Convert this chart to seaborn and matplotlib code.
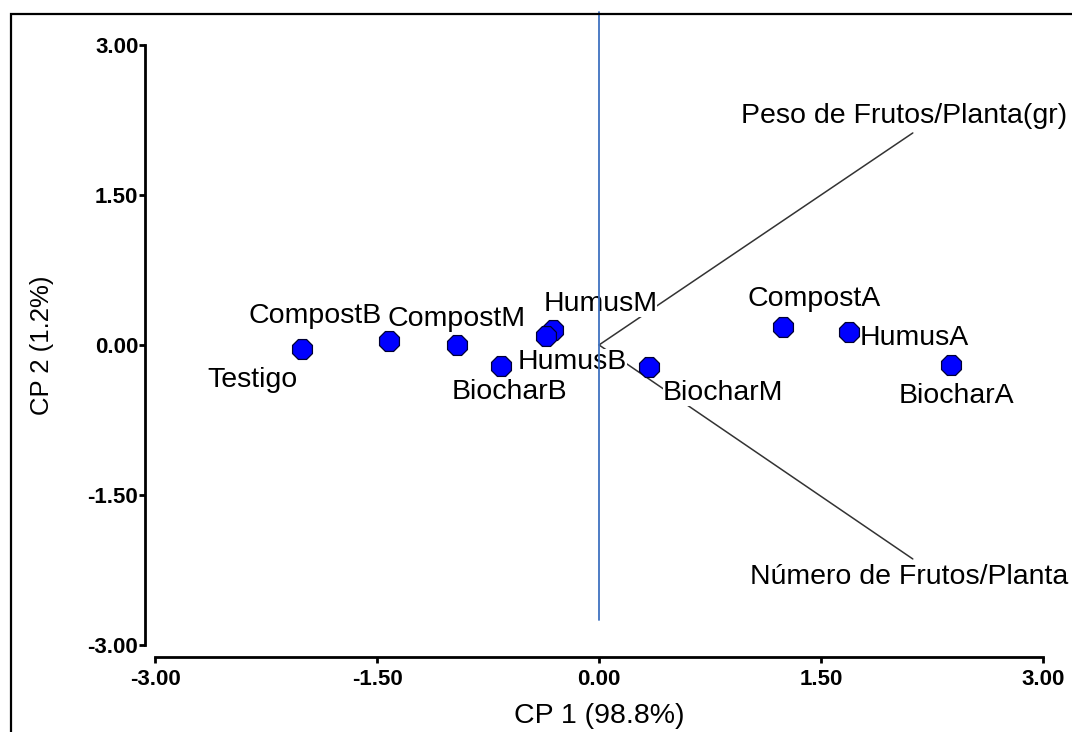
import pandas as pd
import matplotlib.pyplot as plt
import seaborn as sns
from matplotlib.patches import Rectangle

# scores of the treatments (CP1, CP2)
tratamientos = ['Testigo', 'CompostB', 'CompostM', 'BiocharB', 'HumusM',
                'HumusB', 'BiocharM', 'CompostA', 'HumusA', 'BiocharA']
cp1 = [-2.01, -1.42, -0.96, -0.66, -0.31, -0.36, 0.34, 1.24, 1.69, 2.38]
cp2 = [-0.04, 0.04, 0.00, -0.21, 0.15, 0.09, -0.22, 0.18, 0.13, -0.20]

# variable vectors
variables = ['Peso de Frutos/Planta(gr)', 'Número de Frutos/Planta']
var_cp1 = [2.12, 2.12]
var_cp2 = [2.12, -2.14]

ticks = [-3.00, -1.50, 0.00, 1.50, 3.00]

# label offsets in points (layout only)
offs = {'Testigo': (-35, -22), 'CompostB': (-53, 18), 'CompostM': (0, 19),
        'BiocharB': (6, -19), 'HumusM': (34, 19), 'HumusB': (19, -19),
        'BiocharM': (53, -19), 'CompostA': (23, 20), 'HumusA': (47, -4),
        'BiocharA': (4, -22)}
var_offs = [(-6, 12), (-3, -13)]

df = pd.DataFrame({'trat': tratamientos, 'cp1': cp1, 'cp2': cp2})

sns.set_style('ticks')
plt.rcParams['font.family'] = ['Liberation Sans', 'DejaVu Sans']
plt.rcParams['text.color'] = 'black'
plt.rcParams['axes.labelcolor'] = 'black'
plt.rcParams['xtick.labelsize'] = 16
plt.rcParams['ytick.labelsize'] = 16

fig = plt.figure(figsize=(10.72, 7.32), dpi=100)
ax = fig.add_axes([0.1446, 0.1189, 0.8284, 0.8197])

# vectors
for v, x, y in zip(variables, var_cp1, var_cp2):
    ax.plot([0, x], [0, y], color='#333333', lw=1.1, zorder=1)

sns.scatterplot(data=df, x='cp1', y='cp2', ax=ax, marker='8', s=240,
                color='#0000FF', edgecolor='#000033', linewidth=0.9, zorder=5)

for t, x, y in zip(tratamientos, cp1, cp2):
    ax.annotate(t, (x, y), xytext=offs[t], textcoords='offset points',
                ha='center', va='center', fontsize=20.5, color='black',
                bbox=dict(facecolor='white', edgecolor='none', pad=0),
                zorder=3, annotation_clip=False)

for v, x, y, o in zip(variables, var_cp1, var_cp2, var_offs):
    ax.annotate(v, (x, y), xytext=o, textcoords='offset points',
                ha='center', va='center', fontsize=20.5, color='black',
                bbox=dict(facecolor='white', edgecolor='none', pad=0),
                zorder=3, annotation_clip=False)

# vertical reference line
ax.plot([0, 0], [-2.75, 3.33], color='#3f72c0', lw=1.3, zorder=4, clip_on=False)

sns.despine(ax=ax)
ax.spines['left'].set_position(('outward', 7))
ax.spines['bottom'].set_position(('outward', 9))
for s in ['left', 'bottom']:
    ax.spines[s].set_linewidth(2)
    ax.spines[s].set_color('black')

ax.set_xlim(-3, 3)
ax.set_ylim(-3, 3)
ax.set_xticks(ticks)
ax.set_yticks(ticks)
ax.set_xticklabels([f'{t:.2f}' for t in ticks])
ax.set_yticklabels([f'{t:.2f}' for t in ticks])
ax.tick_params(axis='both', length=4, width=2, color='black',
               labelcolor='black', labelsize=16)
ax.tick_params(axis='x', pad=4)
ax.tick_params(axis='y', pad=1)
for lab in ax.get_xticklabels() + ax.get_yticklabels():
    lab.set_fontweight('bold')

ax.set_xlabel('CP 1 (98.8%)', fontsize=20.5, labelpad=10, color='black')
ax.set_ylabel('CP 2 (1.2%)', fontsize=18.5, labelpad=24, color='black')

# frame around the picture
fig.patches.append(Rectangle((11 / 1072, -0.05), 1.2, 1 - 14 / 732 + 0.05,
                             transform=fig.transFigure, fill=False,
                             edgecolor='black', lw=1.6))

fig.savefig('out.png', dpi=100)
